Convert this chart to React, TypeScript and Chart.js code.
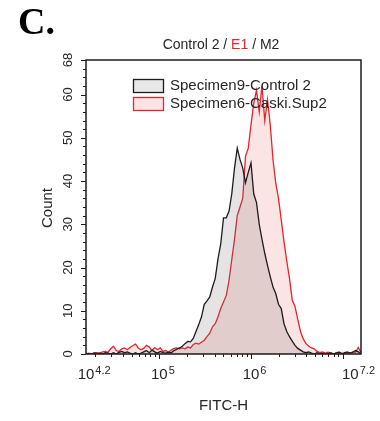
import React, { useEffect, useRef } from "react";
import { Chart, registerables } from "chart.js";

Chart.register(...registerables);

// Bin centres on the FITC-H axis, as log10 exponents
const binExponents: number[] = [
  4.2, 4.23, 4.26, 4.29, 4.32, 4.35, 4.38, 4.41, 4.44, 4.47,
  4.5, 4.53, 4.56, 4.59, 4.62, 4.65, 4.68, 4.71, 4.74, 4.77,
  4.8, 4.83, 4.86, 4.89, 4.92, 4.95, 4.98, 5.01, 5.04, 5.07,
  5.1, 5.13, 5.16, 5.19, 5.22, 5.25, 5.28, 5.31, 5.34, 5.37,
  5.4, 5.43, 5.46, 5.49, 5.52, 5.55, 5.58, 5.61, 5.64, 5.67,
  5.7, 5.73, 5.76, 5.79, 5.82, 5.85, 5.88, 5.91, 5.94, 5.97,
  6.0, 6.03, 6.06, 6.09, 6.12, 6.15, 6.18, 6.21, 6.24, 6.27,
  6.3, 6.33, 6.36, 6.39, 6.42, 6.45, 6.48, 6.51, 6.54, 6.57,
  6.6, 6.63, 6.66, 6.69, 6.72, 6.75, 6.78, 6.81, 6.84, 6.87,
  6.9, 6.93, 6.96, 6.99, 7.02, 7.05, 7.08, 7.11, 7.14, 7.17,
  7.2,
];

// Specimen9-Control 2 counts
const controlCounts: number[] = [
  0, 0, 0, 0.2, 0, 0.2, 0, 0.3, 0.2, 0,
  0.3, 0, 0.4, 0.6, 0.3, 0.5, 0.2, 0, 0.3, 0,
  0.2, 0.5, 0.8, 0.3, 0.9, 0.5, 0.2, 0.6, 0.3, 0.2,
  0.4, 0.3, 0.8, 1.1, 1.4, 1.8, 2.4, 2.9, 2.8, 3.6,
  5.2, 6.8, 8.6, 11.5, 12.3, 13.2, 15.5, 17.5, 22, 25.5,
  31.5, 31.5, 33, 37, 43, 47.6, 45, 43, 39.6, 42,
  44.2, 37, 35, 30, 26.5, 23.3, 20.5, 17.9, 15.5, 14,
  11.5, 10.5, 7, 5.2, 4, 3, 2, 1.3, 0.9, 0.5,
  0.3, 0.5, 0.2, 0, 0.3, 0, 0.2, 0, 0, 0.3,
  0, 0.2, 0.4, 0, 0.3, 0.5, 0.2, 0.4, 0.8, 0.5,
  0,
];

// Specimen6-Caski.Sup2 counts
const caskiCounts: number[] = [
  0, 0.2, 0, 0.3, 0.3, 0.2, 0.5, 0.6, 0.4, 1.2,
  1.8, 0.8, 0.6, 1.2, 1.4, 1.0, 1.5, 1.9, 2.3, 1.4,
  1.0, 1.3, 2.0, 1.6, 0.8, 1.5, 1.0, 1.4, 0.6, 0.8,
  0.4, 0.9, 1.3, 1.4, 1.2, 1.4, 1.2, 1.6, 1.4, 2.2,
  2.5, 2.3, 2.7, 3.2, 4.0, 4.8, 6.3, 7.0, 8.6, 10.5,
  12.0, 13.5, 17.0, 21.8, 26.5, 32.0, 34.0, 36.0, 45.7, 47.6,
  53, 58, 61, 56, 62, 54, 58.8, 53, 45, 39.5,
  36, 31, 26, 21.5, 17.5, 12.5, 11, 8, 5.2, 3.5,
  2.4, 1.8, 1.4, 1.2, 0.6, 0.3, 0.5, 0.2, 0.4, 0.2,
  0, 0.3, 0.4, 0.2, 0, 0.3, 0.2, 0.5, 0.4, 1.5,
  0.3,
];

const seriesNames: string[] = ["Specimen9-Control 2", "Specimen6-Caski.Sup2"];
const xMajorExponents: number[] = [4.2, 5, 6, 7.2];
const xMajorLabels: string[][] = [["10", "4.2"], ["10", "5"], ["10", "6"], ["10", "7.2"]];
const yMajorTicks: number[] = [0, 10, 20, 30, 40, 50, 60, 68];
const titleParts: string[] = ["Control 2 / ", "E1", " / M2"];
const panelLabel = "C.";
const xTitle = "FITC-H";
const yTitle = "Count";

const BLACK = "#1c1c1c";
const RED = "#e3262b";
const TEXT = "#262626";
const SANS = "'Liberation Sans', Arial, sans-serif";

const decor = {
  id: "decor",
  afterDraw(chart: any) {
    const ctx: CanvasRenderingContext2D = chart.ctx;
    const xs = chart.scales.x;
    const ys = chart.scales.y;
    const a = chart.chartArea;
    ctx.save();

    // frame
    ctx.strokeStyle = BLACK;
    ctx.lineWidth = 1.5;
    ctx.strokeRect(a.left, a.top, a.right - a.left, a.bottom - a.top);

    // y ticks
    ctx.lineWidth = 1;
    for (let v = 0; v <= 68; v += 2) {
      const y = Math.round(ys.getPixelForValue(v)) + 0.5;
      const major = v % 10 === 0 || v === 68;
      ctx.beginPath();
      ctx.moveTo(a.left - (major ? 5 : 3), y);
      ctx.lineTo(a.left, y);
      ctx.stroke();
    }
    // x ticks (log minor)
    for (let n = 4; n <= 7; n++) {
      for (let k = 1; k <= 9; k++) {
        const e = n + Math.log10(k);
        if (e < 4.2 - 1e-6 || e > 7.2 + 1e-6) continue;
        const x = Math.round(xs.getPixelForValue(e)) + 0.5;
        const major = k === 1;
        ctx.beginPath();
        ctx.moveTo(x, a.bottom);
        ctx.lineTo(x, a.bottom + (major ? 5 : 3));
        ctx.stroke();
      }
    }

    ctx.fillStyle = TEXT;
    // y tick labels (rotated)
    ctx.font = `13px ${SANS}`;
    ctx.textAlign = "center";
    ctx.textBaseline = "middle";
    yMajorTicks.forEach((v) => {
      const y = ys.getPixelForValue(v);
      ctx.save();
      ctx.translate(68, y);
      ctx.rotate(-Math.PI / 2);
      ctx.fillText(String(v), 0, 0);
      ctx.restore();
    });

    // x tick labels with superscripts
    xMajorExponents.forEach((e, i) => {
      const [base, sup] = xMajorLabels[i];
      const x = xs.getPixelForValue(e);
      ctx.font = `15px ${SANS}`;
      const bw = ctx.measureText(base).width;
      ctx.font = `11px ${SANS}`;
      const sw = ctx.measureText(sup).width;
      let left = x - bw / 2;
      if (i === xMajorExponents.length - 1) left = x + 14 - bw - sw - 1;
      ctx.textAlign = "left";
      ctx.textBaseline = "alphabetic";
      ctx.font = `15px ${SANS}`;
      ctx.fillText(base, left, a.bottom + 25);
      ctx.font = `11px ${SANS}`;
      ctx.fillText(sup, left + bw + 1, a.bottom + 20);
    });

    // axis titles
    ctx.font = `15px ${SANS}`;
    ctx.textAlign = "center";
    ctx.textBaseline = "middle";
    ctx.fillText(xTitle, (a.left + a.right) / 2, 406);
    ctx.save();
    ctx.translate(48, 208);
    ctx.rotate(-Math.PI / 2);
    ctx.fillText(yTitle, 0, 0);
    ctx.restore();

    // title
    ctx.font = `14px ${SANS}`;
    ctx.textAlign = "left";
    const widths = titleParts.map((p) => ctx.measureText(p).width);
    const total = widths.reduce((s, w) => s + w, 0);
    let tx = 221 - total / 2;
    titleParts.forEach((p, i) => {
      ctx.fillStyle = i === 1 ? RED : TEXT;
      ctx.fillText(p, tx, 45);
      tx += widths[i];
    });

    // legend
    const rows = [
      { y: 79, fill: "#e8e8e8", stroke: BLACK },
      { y: 97, fill: "#fde3e3", stroke: RED },
    ];
    ctx.font = `15px ${SANS}`;
    rows.forEach((r, i) => {
      ctx.fillStyle = r.fill;
      ctx.fillRect(133, r.y, 30, 13);
      ctx.strokeStyle = r.stroke;
      ctx.lineWidth = 1.3;
      ctx.strokeRect(133.5, r.y + 0.5, 30, 13);
      ctx.fillStyle = TEXT;
      ctx.textBaseline = "middle";
      ctx.fillText(seriesNames[i], 170, r.y + 7);
    });

    // panel label
    ctx.fillStyle = "#000";
    ctx.font = `bold 38px 'Liberation Serif', 'Times New Roman', serif`;
    ctx.textBaseline = "alphabetic";
    ctx.fillText(panelLabel, 18, 34);

    ctx.restore();
  },
};

export default function App() {
  const ref = useRef<HTMLCanvasElement | null>(null);
  useEffect(() => {
    document.body.style.margin = "0";
    if (!ref.current) return;
    const chart = new Chart(ref.current, {
      type: "line",
      data: {
        datasets: [
          {
            label: seriesNames[0],
            data: binExponents.map((e, i) => ({ x: e, y: controlCounts[i] })),
            borderColor: BLACK,
            backgroundColor: "rgba(110,100,100,0.18)",
            borderWidth: 1.3,
            pointRadius: 0,
            tension: 0,
            fill: "origin",
          },
          {
            label: seriesNames[1],
            data: binExponents.map((e, i) => ({ x: e, y: caskiCounts[i] })),
            borderColor: RED,
            backgroundColor: "rgba(235,120,120,0.2)",
            borderWidth: 1.3,
            pointRadius: 0,
            tension: 0,
            fill: "origin",
          },
        ],
      },
      options: {
        animation: false,
        responsive: false,
        maintainAspectRatio: false,
        layout: { padding: { left: 86, right: 19, top: 60, bottom: 67 } },
        plugins: { legend: { display: false }, tooltip: { enabled: false }, title: { display: false } },
        scales: {
          x: { type: "linear", min: 4.2, max: 7.2, display: false },
          y: { type: "linear", min: 0, max: 68, display: false },
        },
      },
      plugins: [decor],
    });
    return () => chart.destroy();
  }, []);
  return (
    <div style={{ position: "fixed", left: 0, top: 0, width: 380, height: 421, background: "#fff" }}>
      <canvas ref={ref} width={380} height={421} style={{ width: 380, height: 421, display: "block" }} />
    </div>
  );
}
